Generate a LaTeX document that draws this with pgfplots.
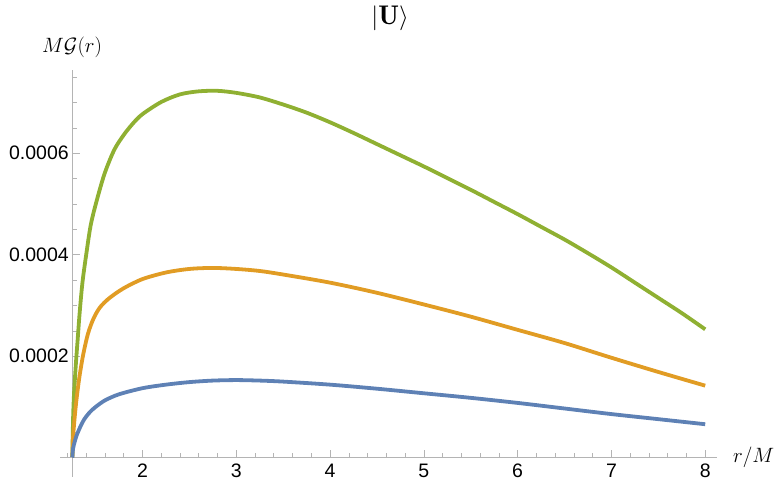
\documentclass[border=0pt]{standalone}
\usepackage{fontspec}
\usepackage{pgfplots}
\pgfplotsset{compat=1.18}
\newfontfamily\tickfont{Liberation Sans}
\definecolor{mmaBlue}{RGB}{94,129,181}
\definecolor{mmaOrange}{RGB}{225,156,36}
\definecolor{mmaGreen}{RGB}{143,176,50}
\definecolor{axisGray}{RGB}{180,180,180}

\begin{document}
\begin{tikzpicture}
\begin{axis}[
    scale only axis, width=645.2pt, height=407.3pt,
    xmin=1.252, xmax=8.13, ymin=-0.0000375, ymax=0.000765,
    axis lines=middle,
    axis line style={axisGray, line width=0.8pt, -},
    xtick={2,3,4,5,6,7,8},
    minor xtick={1.4,1.6,1.8,2.2,2.4,2.6,2.8,3.2,3.4,3.6,3.8,4.2,4.4,4.6,4.8,5.2,5.4,5.6,5.8,6.2,6.4,6.6,6.8,7.2,7.4,7.6,7.8},
    ytick={0.0002,0.0004,0.0006}, yticklabels={0.0002,0.0004,0.0006},
    minor ytick={0.00005,0.0001,0.00015,0.00025,0.0003,0.00035,0.00045,0.0005,0.00055,0.00065,0.0007,0.00075},
    scaled y ticks=false,
    tick align=inside, major tick length=8pt, minor tick length=4.5pt,
    every tick/.style={axisGray, line width=0.6pt},
    tick label style={font=\fontsize{19.5}{22}\selectfont\tickfont},
    /pgf/number format/assume math mode=true,
    xticklabel style={yshift=-3pt},
    clip=false,
  ]
  % green
  \addplot[mmaGreen, line width=3.8pt, smooth, tension=0.5] coordinates {
    (1.252,0) (1.26,0.000075) (1.27,0.000125) (1.29,0.000185) (1.31,0.000235)
    (1.33,0.000285) (1.36,0.000345) (1.40,0.000400) (1.45,0.000460)
    (1.52,0.000512) (1.60,0.000562) (1.70,0.000607) (1.80,0.000636)
    (1.90,0.000659) (2.00,0.000677) (2.20,0.000701) (2.40,0.000716)
    (2.60,0.000722) (2.80,0.000723) (3.00,0.000719) (3.25,0.000710)
    (3.50,0.000696) (3.75,0.000680) (4.00,0.000661) (4.25,0.000640)
    (4.50,0.000618) (4.75,0.000596) (5.00,0.000574) (5.25,0.000551)
    (5.50,0.000528) (5.75,0.000504) (6.00,0.000480) (6.25,0.000455)
    (6.50,0.000430) (6.75,0.000403) (7.00,0.000375) (7.25,0.000345)
    (7.50,0.000315) (7.75,0.000285) (8.00,0.000253)};
  % orange
  \addplot[mmaOrange, line width=3.8pt, smooth, tension=0.5] coordinates {
    (1.252,0) (1.26,0.000040) (1.28,0.000085) (1.30,0.000120) (1.33,0.000162)
    (1.37,0.000205) (1.42,0.000245) (1.48,0.000275) (1.55,0.000297)
    (1.65,0.000315) (1.80,0.000334) (2.00,0.000352) (2.25,0.000365)
    (2.50,0.000372) (2.75,0.000374) (3.00,0.000372) (3.25,0.000368)
    (3.50,0.000361) (4.00,0.000345) (4.50,0.000325) (5.00,0.000302)
    (5.50,0.000278) (6.00,0.000252) (6.50,0.000226) (7.00,0.000197)
    (7.50,0.000169) (8.00,0.000142)};
  % blue
  \addplot[mmaBlue, line width=3.8pt, smooth, tension=0.5] coordinates {
    (1.252,0) (1.26,0.000018) (1.28,0.000033) (1.30,0.000045) (1.34,0.000062)
    (1.38,0.000076) (1.44,0.000090) (1.50,0.000100) (1.60,0.000113)
    (1.75,0.000125) (2.00,0.000137) (2.25,0.000144) (2.50,0.000149)
    (2.75,0.000152) (3.00,0.000153) (3.25,0.000152) (3.50,0.000150)
    (4.00,0.000144) (4.50,0.000136) (5.00,0.000127) (5.50,0.000118)
    (6.00,0.000108) (6.50,0.000097) (7.00,0.000086) (7.50,0.000076)
    (8.00,0.000066)};
  % axis extension left of the vertical axis
  \draw[axisGray, line width=0.8pt] (axis cs:1.252,0) -- ++(-12pt,0pt);
  \draw[axisGray, line width=0.6pt] ([xshift=-4.9pt]axis cs:1.252,0) -- ++(0pt,4.5pt);
  % labels
  \node[font=\fontsize{27}{30}\selectfont] at (axis cs:4.64,0.000866) {$|\mathbf{U}\rangle$};
  \node[font=\fontsize{20.5}{24}\selectfont] at (axis cs:1.249,0.000809) {$M\mathcal{G}(r)$};
  \node[font=\fontsize{20.5}{24}\selectfont] at (axis cs:8.517,0.000001) {$r/M$};
  \coordinate (bbll) at (axis cs:0.481,-0.0000676);
  \coordinate (bbur) at (axis cs:8.808,0.000902);
\end{axis}
\pgfresetboundingbox
\useasboundingbox (bbll) rectangle (bbur);
\end{tikzpicture}
\end{document}
